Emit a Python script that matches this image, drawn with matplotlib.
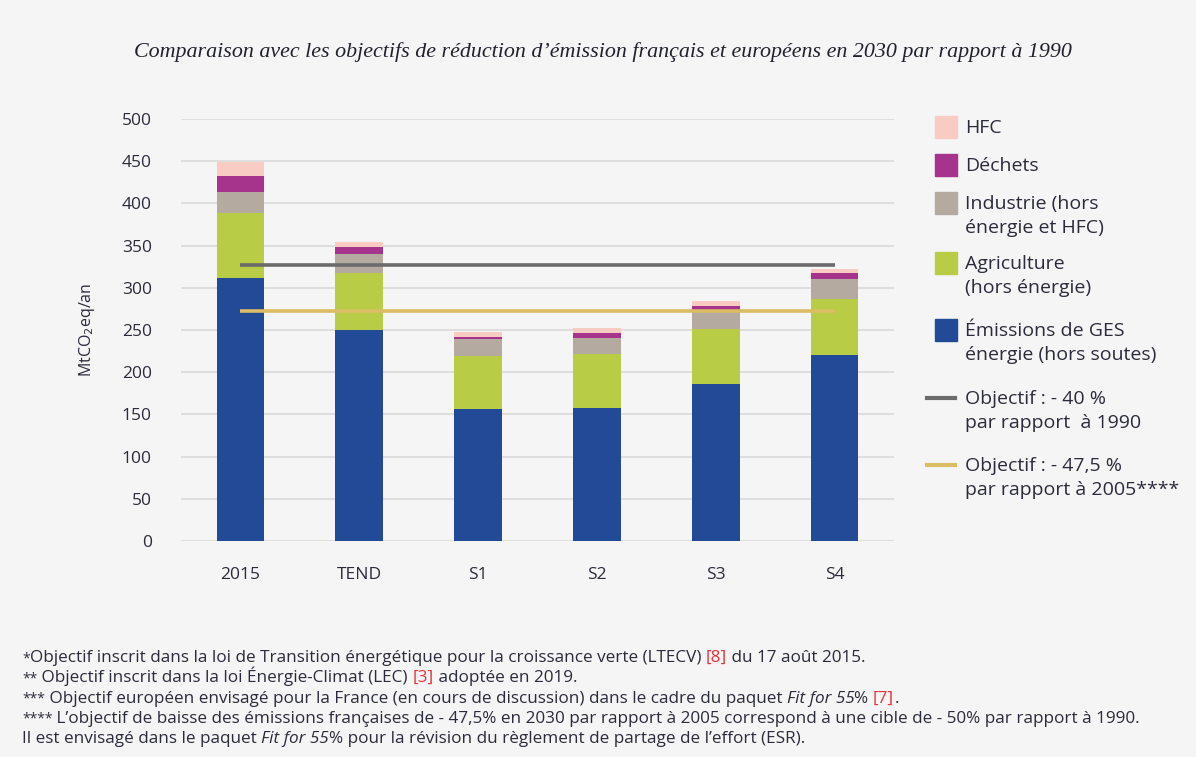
#!/usr/bin/env python3
"""Emissions 2030 vs French / EU reduction targets."""

import matplotlib

matplotlib.use("Agg")
import matplotlib.pyplot as plt
from matplotlib.patches import Rectangle
from matplotlib.lines import Line2D

plt.rcParams.update(
    {
        "font.family": ["Open Sans", "DejaVu Sans"],
        "font.size": 11,
        "axes.spines.top": False,
        "axes.spines.right": False,
        "axes.spines.left": False,
        "axes.spines.bottom": False,
        "figure.facecolor": "#f5f5f5",
        "axes.facecolor": "#f5f5f5",
        "savefig.facecolor": "#f5f5f5",
    }
)

# --- data (MtCO2eq) ---
categories = ["2015", "TEND", "S1", "S2", "S3", "S4"]
energie = [312, 250, 156, 158, 186, 220]
agriculture = [77, 67, 63, 63, 65, 67]
industrie = [25, 23, 20, 20, 23, 23]
dechets = [18, 8, 3, 6, 5, 7]
hfc = [17, 6, 6, 5, 5, 5]
objectif_1990 = 327
objectif_2005 = 273

series = [
    ("Émissions de GES\nénergie (hors soutes)", energie, "#224a96"),
    ("Agriculture\n(hors énergie)", agriculture, "#b8cc46"),
    ("Industrie (hors\nénergie et HFC)", industrie, "#b5aaa0"),
    ("Déchets", dechets, "#a6338c"),
    ("HFC", hfc, "#f8cbc3"),
]
line_targets = [
    ("Objectif : - 40 %\npar rapport  à 1990", objectif_1990, "#6b6b6b"),
    ("Objectif : - 47,5 %\npar rapport à 2005****", objectif_2005, "#dabd65"),
]

TEXT = "#2b2b3b"
W, H = 1196, 757
fig = plt.figure(figsize=(W / 100, H / 100), dpi=100)
ax = fig.add_axes([181 / W, 1 - 541 / H, (894 - 181) / W, (541 - 119) / H])

x = list(range(len(categories)))
bottom = [0] * len(categories)
for label, vals, color in series:
    ax.bar(x, vals, width=0.4, bottom=bottom, color=color, zorder=3)
    bottom = [b + v for b, v in zip(bottom, vals)]

for label, val, color in line_targets:
    ax.hlines(val, x[0], x[-1], color=color, linewidth=2.6, zorder=4)

ax.set_xlim(-0.5, len(categories) - 0.5)
ax.set_ylim(0, 500)
ax.set_yticks(range(0, 501, 50))
ax.set_xticks(x)
ax.set_xticklabels(categories)
ax.yaxis.grid(True, color="#dedede", linewidth=1.5, zorder=0)
ax.set_axisbelow(True)
ax.tick_params(axis="both", length=0, labelsize=12.5, colors=TEXT)
ax.tick_params(axis="y", pad=21)
ax.tick_params(axis="x", pad=19)
ax.set_ylabel("MtCO$_2$eq/an", fontsize=11.5, color=TEXT)
ax.yaxis.set_label_coords(-0.118, 0.5)

# title
fig.text(
    603 / W, 1 - 52 / H,
    "Comparaison avec les objectifs de réduction d’émission français et européens en 2030 par rapport à 1990",
    ha="center", va="center", fontsize=15.8, style="italic",
    family="Liberation Serif", color="#22222e",
)

# legend (handle aligned with first text line, as in the original)
leg_y = [127, 165, 203, 263, 330]
for (label, vals, color), yy in zip(reversed(series), leg_y):
    fig.add_artist(Rectangle((935 / W, 1 - (yy + 11) / H), 22 / W, 22 / H,
                             transform=fig.transFigure, color=color))
    fig.text(965 / W, 1 - (yy - 8) / H, label, ha="left", va="top",
             fontsize=14, color=TEXT, linespacing=1.42)
for (label, val, color), yy in zip(line_targets, [398, 465]):
    fig.add_artist(Line2D([927 / W, 955 / W], [1 - yy / H] * 2,
                          transform=fig.transFigure, color=color, linewidth=3))
    fig.text(965 / W, 1 - (yy - 8) / H, label, ha="left", va="top",
             fontsize=14, color=TEXT, linespacing=1.42)

# footnotes with mixed styles
RED = "#e5323b"
notes = [
    [("*", "normal", TEXT), ("Objectif inscrit dans la loi de Transition énergétique pour la croissance verte (LTECV) ", "normal", TEXT),
     ("[8]", "normal", RED), (" du 17 août 2015.", "normal", TEXT)],
    [("**", "normal", TEXT), (" Objectif inscrit dans la loi Énergie-Climat (LEC) ", "normal", TEXT),
     ("[3]", "normal", RED), (" adoptée en 2019.", "normal", TEXT)],
    [("***", "normal", TEXT), (" Objectif européen envisagé pour la France (en cours de discussion) dans le cadre du paquet ", "normal", TEXT),
     ("Fit for 55", "italic", TEXT), ("% ", "normal", TEXT), ("[7]", "normal", RED), (".", "normal", TEXT)],
    [("****", "normal", TEXT), (" L’objectif de baisse des émissions françaises de - 47,5% en 2030 par rapport à 2005 correspond à une cible de - 50% par rapport à 1990.", "normal", TEXT)],
    [("Il est envisagé dans le paquet ", "normal", TEXT), ("Fit for 55", "italic", TEXT),
     ("% pour la révision du règlement de partage de l’effort (ESR).", "normal", TEXT)],
]
renderer = fig.canvas.get_renderer()
for i, parts in enumerate(notes):
    xx = 22
    yy = 662 + i * 20.3
    for txt, style, color in parts:
        stars = txt.strip("*") == ""
        t = fig.text(xx / W, 1 - yy / H, txt, ha="left", va="baseline",
                     fontsize=10 if stars else 12.3, style=style, color=color)
        xx += t.get_window_extent(renderer).width

fig.savefig("out.png", dpi=100)
plt.close(fig)
